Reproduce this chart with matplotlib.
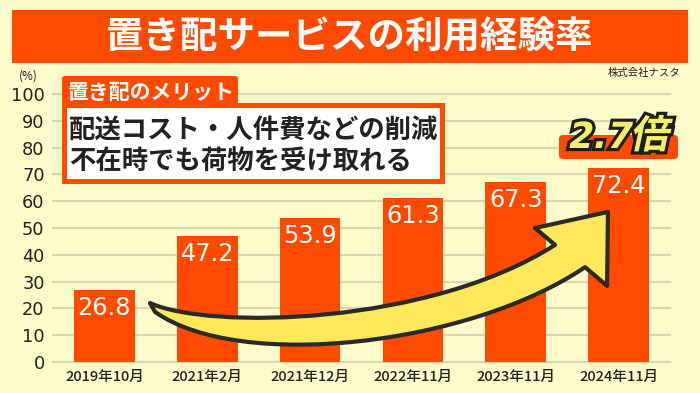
import matplotlib
matplotlib.use('Agg')
import matplotlib.pyplot as plt
from matplotlib.patches import Rectangle, FancyBboxPatch, PathPatch
from matplotlib.path import Path
from matplotlib.textpath import TextPath
from matplotlib.font_manager import FontProperties
from matplotlib.transforms import Affine2D
import matplotlib.patheffects as pe

plt.rcParams['font.family'] = ['Noto Sans CJK JP', 'DejaVu Sans']
NUM_FONT = ['DejaVu Sans', 'Noto Sans CJK JP']

# data
periods = ['2019年10月', '2021年2月', '2021年12月', '2022年11月', '2023年11月', '2024年11月']
usage_rate = [26.8, 47.2, 53.9, 61.3, 67.3, 72.4]
y_ticks = list(range(0, 101, 10))

title = '置き配サービスの利用経験率'
source = '株式会社ナスタ'
merit_head = '置き配のメリット'
merit_lines = ['配送コスト・人件費などの削減', '不在時でも荷物を受け取れる']
growth = '2.7倍'

BG = '#FEFBCB'
RED = '#FF4A00'
INK = '#222222'

W, H = 700, 393
fig = plt.figure(figsize=(W / 100, H / 100), dpi=100, facecolor=BG)
# pixel coords measured from the top-left corner
PIX = Affine2D().scale(1, -1).translate(0, H)

# title banner
fig.add_artist(Rectangle((12, 10), 676, 53, facecolor=RED, edgecolor='none', transform=PIX))
fig.text(350, 37, title, transform=PIX, color='white', fontsize=27,
         fontweight='bold', ha='center', va='center')
fig.text(680, 73, source, transform=PIX, color=INK, fontsize=7.5, ha='right', va='center')
fig.text(28, 76, '(%)', transform=PIX, color=INK, fontsize=8.5, ha='center', va='center')

# chart
ax = fig.add_axes([53 / W, 1 - 362 / H, (670 - 53) / W, (362 - 94) / H])
ax.set_facecolor('none')
xs = list(range(len(periods)))
ax.bar(xs, usage_rate, width=0.59, color=RED, zorder=2)
ax.set_xlim(-0.5, len(periods) - 0.5)
ax.set_ylim(0, 100)
ax.set_yticks(y_ticks)
ax.set_xticks(xs, periods)
ax.grid(axis='y', color='#D9D6B0', lw=1.6, zorder=0)
ax.set_axisbelow(True)
for gl in ax.get_ygridlines():
    gl.set_clip_on(False)
for s in ax.spines.values():
    s.set_visible(False)
ax.tick_params(axis='y', length=0, labelsize=12.8, labelcolor=INK, pad=6)
ax.tick_params(axis='x', length=0, labelsize=10.5, labelcolor=INK, pad=6)
for lab in ax.get_yticklabels():
    lab.set_fontfamily(NUM_FONT)
for lab in ax.get_xticklabels():
    lab.set_fontweight('medium')

for i, v in enumerate(usage_rate):
    ax.annotate(f'{v}', (i, v), xytext=(0, -18), textcoords='offset points',
                ha='center', va='baseline', color='white', fontsize=17.3,
                family=NUM_FONT, zorder=6)

# big curved arrow (data units)
verts = [(0.443, 22.0), (1.027, 11.9), (3.166, 13.8), (4.382, 43.7),
         (4.187, 50.0), (4.897, 56.0), (4.888, 28.4), (4.674, 35.4),
         (3.555, 6.3), (1.319, -3.7), (0.492, 18.7),
         (0.443, 22.0), (0.443, 22.0)]
codes = [Path.MOVETO, Path.CURVE4, Path.CURVE4, Path.CURVE4,
         Path.LINETO, Path.LINETO, Path.LINETO, Path.LINETO,
         Path.CURVE4, Path.CURVE4, Path.CURVE4,
         Path.LINETO, Path.CLOSEPOLY]
ax.add_patch(PathPatch(Path(verts, codes), facecolor='#FCE85A', edgecolor='#2a2a2a',
                       lw=3, joinstyle='round', zorder=4, clip_on=False))

# merit box
fig.add_artist(FancyBboxPatch((62, 76), 176, 34, boxstyle='round,pad=0,rounding_size=3',
                              facecolor=RED, edgecolor='none', transform=PIX))
fig.add_artist(Rectangle((62, 103), 383, 81, facecolor=RED, edgecolor='none', transform=PIX))
fig.add_artist(Rectangle((67, 108), 373, 71, facecolor='white', edgecolor='none', transform=PIX))
fig.text(68, 92, merit_head, transform=PIX, color='white', fontsize=15,
         fontweight='bold', ha='left', va='center')
for k, line in enumerate(merit_lines):
    fig.text(69, 130 + 32 * k, line, transform=PIX, color=INK, fontsize=19,
             fontweight='bold', ha='left', va='center')

# 2.7倍 badge
fig.add_artist(FancyBboxPatch((559, 135), 119, 24, boxstyle='round,pad=0,rounding_size=4',
                              facecolor=RED, edgecolor='none', transform=PIX))
fp = FontProperties(family='DejaVu Sans', weight='bold')
fp_cjk = FontProperties(family='Noto Sans CJK JP', weight='bold')
tp_num = TextPath((0, 0), growth[:-1], size=36, prop=fp)
tp_kan = TextPath((0, 0), growth[-1], size=39, prop=fp_cjk)
w_num = tp_num.get_extents().x1
w_kan = tp_kan.get_extents().x1
total = w_num + 2 + w_kan
base = Affine2D().translate(-total / 2, 0).skew_deg(12, 0).translate(617, H - 148)
for tp, dx in [(tp_num, 0), (tp_kan, w_num + 2)]:
    tr = Affine2D().translate(dx, 0) + base
    fig.add_artist(PathPatch(tp, facecolor='#F4EF6A', edgecolor='none', transform=tr,
                             path_effects=[pe.Stroke(linewidth=4.5, foreground='#1e1e1e'),
                                           pe.Normal()]))

fig.savefig('out.png', dpi=100, facecolor=BG)
